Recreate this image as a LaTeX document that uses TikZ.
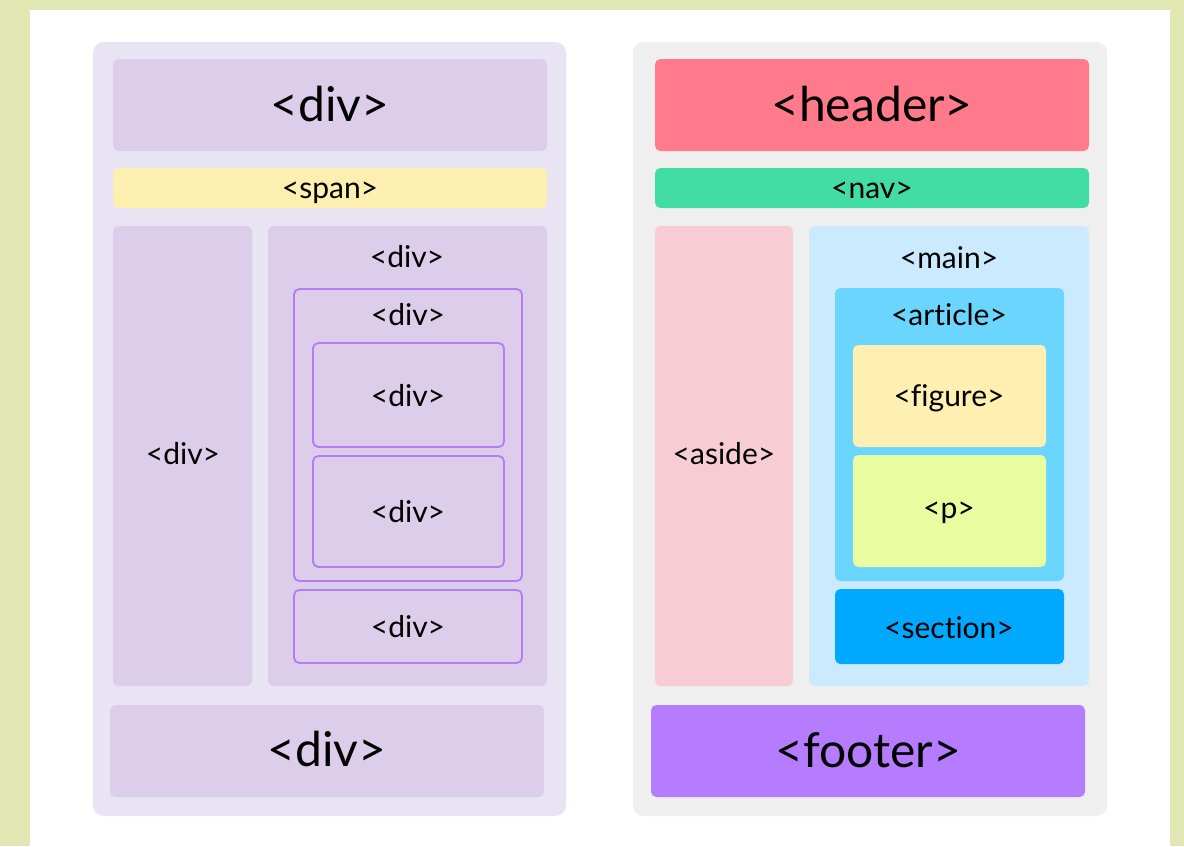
\documentclass[tikz,border=0pt]{standalone}
\usepackage{fontspec}
\setmainfont{Lato}[Ligatures=NoCommon]
\definecolor{pagegreen}{HTML}{E1E8B3}
\definecolor{lavpanel}{HTML}{E8E4F4}
\definecolor{divfill}{HTML}{DCCDEA}
\definecolor{divline}{HTML}{B57CF8}
\definecolor{spanfill}{HTML}{FDEFB0}
\definecolor{greypanel}{HTML}{EFEFEF}
\definecolor{headerfill}{HTML}{FF7A8A}
\definecolor{navfill}{HTML}{42DCA5}
\definecolor{asidefill}{HTML}{F8CCD4}
\definecolor{mainfill}{HTML}{CBEAFD}
\definecolor{articlefill}{HTML}{6AD6FF}
\definecolor{figurefill}{HTML}{FFF0B2}
\definecolor{pfill}{HTML}{EAFCA0}
\definecolor{sectionfill}{HTML}{00A8FF}
\definecolor{footerfill}{HTML}{B57CFF}
\tikzset{
  panel/.style={rounded corners=8pt},
  tagbox/.style={rounded corners=4pt},
  framed/.style={tagbox, draw=divline, line width=1.4pt},
  bigtag/.style={font=\fontsize{36}{40}\selectfont, text height=31.5pt, text depth=7.2pt},
  smalltag/.style={font=\fontsize{22.5}{26}\selectfont, text height=21.5pt, text depth=4.5pt}
}
\begin{document}
\begin{tikzpicture}[x=0.75pt, y=-0.75pt]
            \useasboundingbox (0,0) rectangle (1184,846);
            \fill[pagegreen] (0,0) rectangle (1184,846);
            \fill[white] (30,10) rectangle (1170,846);
            % left: generic divs
            \fill[lavpanel, panel] (93,42) rectangle (566,816);
            \fill[divfill, tagbox] (113,59) rectangle (547,151);
            \fill[spanfill, tagbox] (113,168) rectangle (547,208);
            \fill[divfill, tagbox] (113,226) rectangle (252,686);
            \fill[divfill, tagbox] (268,226) rectangle (547,686);
            \draw[framed] (294,289) rectangle (522,581);
            \draw[framed] (313,343) rectangle (504,447);
            \draw[framed] (313,456) rectangle (504,567);
            \draw[framed] (294,590) rectangle (522,663);
            \fill[divfill, tagbox] (110,705) rectangle (544,797);
            \node[bigtag] (topdiv) at (330,105) {<div>};
            \node[smalltag] (span) at (330,187) {<span>};
            \node[smalltag] (sidediv) at (183,453) {<div>};
            \node[smalltag] (bodydiv) at (407,256) {<div>};
            \node[smalltag] (outerdiv) at (408,314) {<div>};
            \node[smalltag] (innerdiva) at (408,395) {<div>};
            \node[smalltag] (innerdivb) at (408,511) {<div>};
            \node[smalltag] (lowdiv) at (408,626) {<div>};
            \node[bigtag] (footdiv) at (327,750) {<div>};
            % right: semantic tags
            \fill[greypanel, panel] (633,42) rectangle (1107,816);
            \fill[headerfill, tagbox] (655,59) rectangle (1089,151);
            \fill[navfill, tagbox] (655,168) rectangle (1089,208);
            \fill[asidefill, tagbox] (655,226) rectangle (793,686);
            \fill[mainfill, tagbox] (809,226) rectangle (1089,686);
            \fill[articlefill, tagbox] (835,288) rectangle (1064,581);
            \fill[figurefill, tagbox] (853,345) rectangle (1046,447);
            \fill[pfill, tagbox] (853,455) rectangle (1046,567);
            \fill[sectionfill, tagbox] (835,589) rectangle (1064,664);
            \fill[footerfill, tagbox] (651,705) rectangle (1085,797);
            \node[bigtag] (header) at (872,105) {<header>};
            \node[smalltag] (nav) at (872,187) {<nav>};
            \node[smalltag] (aside) at (724,453) {<aside>};
            \node[smalltag] (main) at (949,257) {<main>};
            \node[smalltag] (article) at (949,314) {<article>};
            \node[smalltag] (figure) at (949,395) {<figure>};
            \node[smalltag] (para) at (949,507) {<p>};
            \node[smalltag] (section) at (949,627) {<section>};
            \node[bigtag] (footer) at (868,751) {<footer>};
        \end{tikzpicture}
\end{document}
